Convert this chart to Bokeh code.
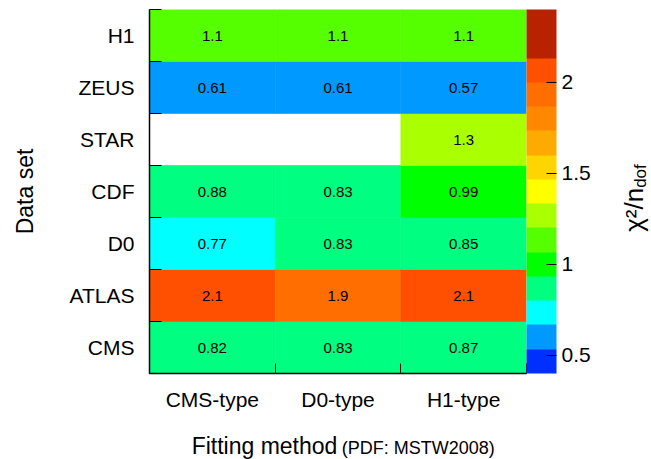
import math
from bokeh.plotting import figure
from bokeh.models import (LinearColorMapper, ColorBar, FixedTicker, Label,
                          ColumnDataSource, Range1d)
from bokeh.embed import file_html
from bokeh.resources import INLINE

# ---- data ----
methods = ["CMS-type", "D0-type", "H1-type"]
datasets = ["CMS", "ATLAS", "D0", "CDF", "STAR", "ZEUS", "H1"]  # bottom -> top
chi2_cms_type = [0.82, 2.1, 0.77, 0.88, None, 0.61, 1.1]
chi2_d0_type = [0.83, 1.9, 0.83, 0.83, None, 0.61, 1.1]
chi2_h1_type = [0.87, 2.1, 0.85, 0.99, 1.3, 0.57, 1.1]
colorbar_ticks = [0.5, 1.0, 1.5, 2.0]
z_low, z_high = 0.4, 2.4
palette = ["#0030ff", "#0099ff", "#00ffff", "#00ff80", "#00ff00",
           "#55ff00", "#aaff00", "#ffff00", "#ffd500", "#ffaa00",
           "#ff8800", "#ff6e00", "#ff4f00", "#b82200", "#b82200"]

FONT = "Liberation Sans"

xs, ys, vs, txt = [], [], [], []
for i, col in enumerate([chi2_cms_type, chi2_d0_type, chi2_h1_type]):
    for j, v in enumerate(col):
        if v is None:
            continue
        xs.append(i + 0.5)
        ys.append(j + 0.5)
        vs.append(v)
        txt.append(f"{v:.2g}")
src = ColumnDataSource(dict(x=xs, y=ys, v=vs, t=txt))

mapper = LinearColorMapper(palette=palette, low=z_low, high=z_high)

p = figure(width=651, height=459, output_backend="svg", toolbar_location=None,
           x_range=Range1d(0, len(methods)), y_range=Range1d(0, len(datasets)),
           min_border_left=149, min_border_right=125, min_border_top=9,
           min_border_bottom=86)
p.outline_line_color = None
p.grid.visible = False
p.background_fill_color = "white"
p.border_fill_color = "white"

p.rect(x="x", y="y", width=1, height=1, source=src,
       fill_color={"field": "v", "transform": mapper},
       line_color={"field": "v", "transform": mapper}, line_width=0.6)
p.text(x="x", y="y", text="t", source=src, text_align="center",
       text_baseline="middle", text_font_size="15px", text_color="black",
       text_font={"value": FONT})

# x axis
p.xaxis.ticker = FixedTicker(ticks=[i + 0.5 for i in range(len(methods))],
                             minor_ticks=list(range(len(methods) + 1)))
p.xaxis.major_label_overrides = {i + 0.5: m for i, m in enumerate(methods)}
# y axis
p.yaxis.ticker = FixedTicker(ticks=[j + 0.5 for j in range(len(datasets))],
                             minor_ticks=list(range(len(datasets) + 1)))
p.yaxis.major_label_overrides = {j + 0.5: d for j, d in enumerate(datasets)}

for ax in (p.xaxis[0], p.yaxis[0]):
    ax.major_tick_in = 0
    ax.major_tick_out = 0
    ax.minor_tick_out = 0
    ax.minor_tick_line_color = "black"
    ax.axis_line_color = "black"
    ax.axis_line_width = 1.5
    ax.major_label_text_font = FONT
    ax.major_label_text_font_size = "21px"
    ax.major_label_text_color = "black"
p.xaxis.minor_tick_in = 10
p.yaxis.minor_tick_in = 12
p.xaxis.major_label_standoff = 14
p.yaxis.major_label_standoff = 15

p.yaxis.axis_label = "Data set"
p.yaxis.axis_label_text_font = FONT
p.yaxis.axis_label_text_font_size = "23px"
p.yaxis.axis_label_text_font_style = "normal"
p.yaxis.axis_label_text_color = "black"
p.yaxis.axis_label_standoff = 29

# colour bar
cb = ColorBar(color_mapper=mapper, width=30, margin=0, padding=0,
              location="top_left", ticker=FixedTicker(ticks=colorbar_ticks),
              major_label_overrides={1.0: "1", 2.0: "2", 0.5: "0.5", 1.5: "1.5"},
              major_tick_in=10, major_tick_out=0, major_tick_line_color="black",
              major_label_text_font=FONT, major_label_text_font_size="21px",
              major_label_text_color="black", label_standoff=5,
              bar_line_color=None, border_line_color=None,
              background_fill_color=None)
p.add_layout(cb, "right")

# titles in side panels
p.add_layout(Label(x=1.495, y=-6, x_units="data", y_units="screen",
                   text="Fitting method", text_align="right",
                   text_baseline="alphabetic", text_font=FONT,
                   text_font_size="23px", text_color="black",
                   text_line_height=1.0), "below")
p.add_layout(Label(x=1.53, y=12, x_units="data", y_units="screen",
                   text="(PDF: MSTW2008)", text_align="left",
                   text_baseline="alphabetic", text_font=FONT,
                   text_font_size="18px", text_color="black",
                   text_line_height=1.0), "below")
p.add_layout(Label(x=40, y=3.57, x_units="screen", y_units="data",
                   text="χ²/n", angle=math.pi / 2, text_align="right",
                   text_baseline="alphabetic", text_font=FONT,
                   text_font_size="26px", text_color="black"), "right")
p.add_layout(Label(x=17, y=3.57, x_units="screen", y_units="data",
                   text="dof", angle=math.pi / 2, text_align="left",
                   text_baseline="alphabetic", text_font=FONT,
                   text_font_size="17px", text_color="black"), "right")

open("out.html", "w").write(file_html(p, INLINE))
